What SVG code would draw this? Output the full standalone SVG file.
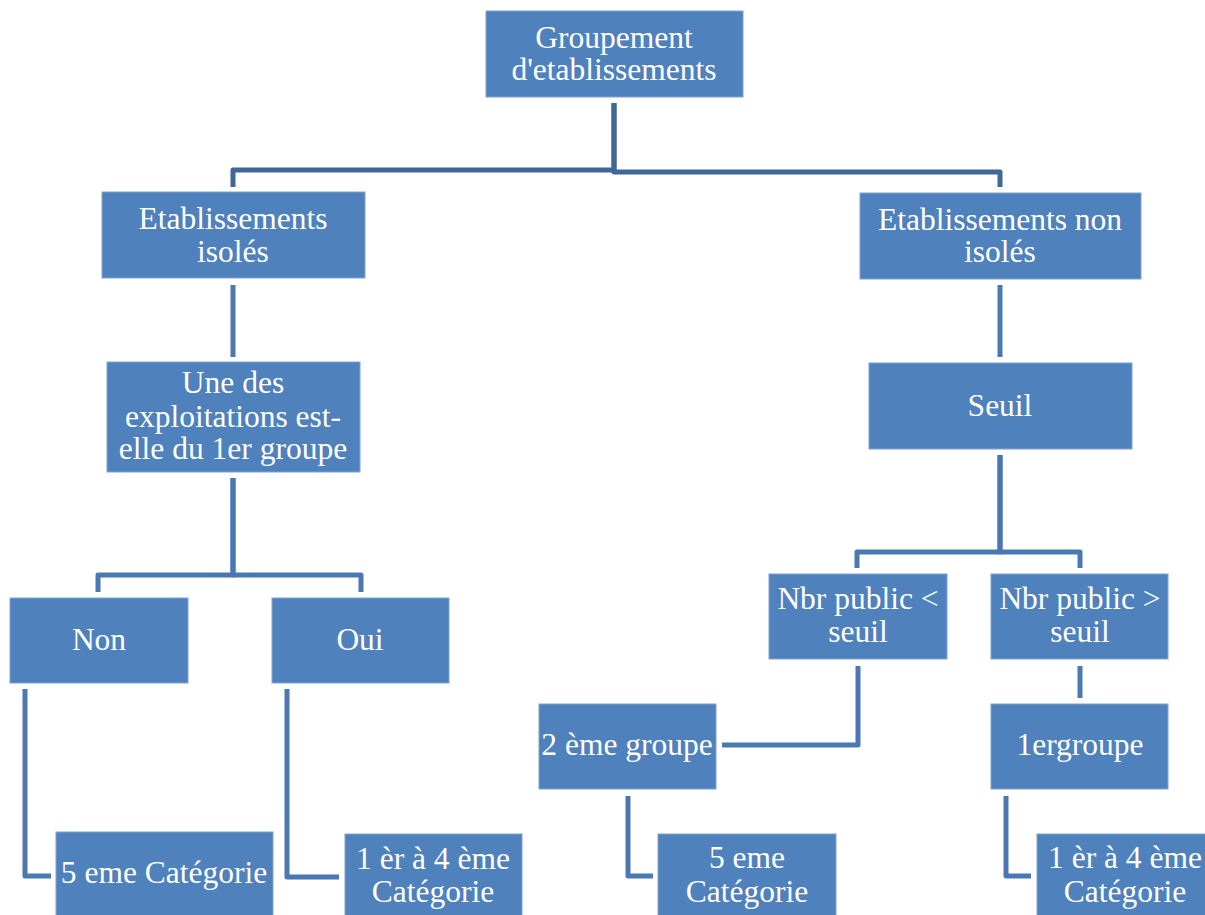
<svg xmlns="http://www.w3.org/2000/svg" width="1205" height="915" viewBox="0 0 1205 915">
  <style>
    .box { fill: #4F81BD; stroke: #7EA3D1; stroke-width: 1; }
    .lbl { fill: #FFFFFF; font-family: "Liberation Serif", "Times New Roman", serif; font-size: 31.5px; text-anchor: middle; }
    .link { fill: none; stroke: #4A78B2; stroke-width: 5; stroke-linejoin: round; stroke-linecap: butt; }
    .link-top { stroke: #3F6898; }
  </style>
  <rect width="1205" height="915" fill="#FFFFFF"/>

  <g id="connectors">
    <!-- root to first level -->
    <path class="link link-top" d="M614,103 V170 H233 V187"/>
    <path class="link link-top" d="M614,103 V172 H1000 V187"/>
    <!-- isolated branch -->
    <path class="link" d="M233,285 V357"/>
    <path class="link" d="M233,478 V575 H98 V592"/>
    <path class="link" d="M233,478 V575 H361 V592"/>
    <path class="link" d="M25,689 V876 H51"/>
    <path class="link" d="M287,689 V877 H339"/>
    <!-- non-isolated branch -->
    <path class="link" d="M1000,285 V357"/>
    <path class="link" d="M1000,455 V552 H857 V568"/>
    <path class="link" d="M1000,455 V552 H1080 V568"/>
    <path class="link" d="M858,666 V745 H722"/>
    <path class="link" d="M1080,666 V698"/>
    <path class="link" d="M628,796 V876 H653"/>
    <path class="link" d="M1006,796 V876 H1031"/>
  </g>

  <g id="node-groupement">
    <rect class="box" x="486" y="11" width="257" height="86"/>
    <text class="lbl" x="614" y="48">Groupement</text>
    <text class="lbl" x="614" y="80">d'etablissements</text>
  </g>

  <g id="node-isoles">
    <rect class="box" x="102" y="192" width="263" height="86"/>
    <text class="lbl" x="233" y="229">Etablissements</text>
    <text class="lbl" x="233" y="262">isolés</text>
  </g>

  <g id="node-non-isoles">
    <rect class="box" x="860" y="193" width="281" height="86"/>
    <text class="lbl" x="1000" y="230">Etablissements non</text>
    <text class="lbl" x="1000" y="262">isolés</text>
  </g>

  <g id="node-question">
    <rect class="box" x="107" y="362" width="253" height="110"/>
    <text class="lbl" x="233" y="393">Une des</text>
    <text class="lbl" x="233" y="427">exploitations est-</text>
    <text class="lbl" x="233" y="459">elle du 1er groupe</text>
  </g>

  <g id="node-seuil">
    <rect class="box" x="869" y="363" width="263" height="86"/>
    <text class="lbl" x="1000" y="416">Seuil</text>
  </g>

  <g id="node-non">
    <rect class="box" x="10" y="598" width="178" height="85"/>
    <text class="lbl" x="99" y="650">Non</text>
  </g>

  <g id="node-oui">
    <rect class="box" x="272" y="598" width="177" height="85"/>
    <text class="lbl" x="360" y="650">Oui</text>
  </g>

  <g id="node-public-inf">
    <rect class="box" x="769" y="574" width="178" height="85"/>
    <text class="lbl" x="858" y="609">Nbr public &lt;</text>
    <text class="lbl" x="858" y="642">seuil</text>
  </g>

  <g id="node-public-sup">
    <rect class="box" x="991" y="574" width="177" height="85"/>
    <text class="lbl" x="1080" y="609">Nbr public &gt;</text>
    <text class="lbl" x="1080" y="642">seuil</text>
  </g>

  <g id="node-2eme-groupe">
    <rect class="box" x="539" y="704" width="177" height="85"/>
    <text class="lbl" x="627" y="755">2 ème groupe</text>
  </g>

  <g id="node-1er-groupe">
    <rect class="box" x="991" y="704" width="177" height="85"/>
    <text class="lbl" x="1080" y="755">1ergroupe</text>
  </g>

  <g id="node-cat5-left">
    <rect class="box" x="56" y="832" width="217" height="90"/>
    <text class="lbl" x="164" y="883">5 eme Catégorie</text>
  </g>

  <g id="node-cat14-left">
    <rect class="box" x="345" y="834" width="177" height="90"/>
    <text class="lbl" x="433" y="869">1 èr à 4 ème</text>
    <text class="lbl" x="433" y="902">Catégorie</text>
  </g>

  <g id="node-cat5-right">
    <rect class="box" x="658" y="834" width="178" height="90"/>
    <text class="lbl" x="747" y="868">5 eme</text>
    <text class="lbl" x="747" y="902">Catégorie</text>
  </g>

  <g id="node-cat14-right">
    <rect class="box" x="1037" y="834" width="177" height="90"/>
    <text class="lbl" x="1125" y="868">1 èr à 4 ème</text>
    <text class="lbl" x="1125" y="902">Catégorie</text>
  </g>
</svg>
